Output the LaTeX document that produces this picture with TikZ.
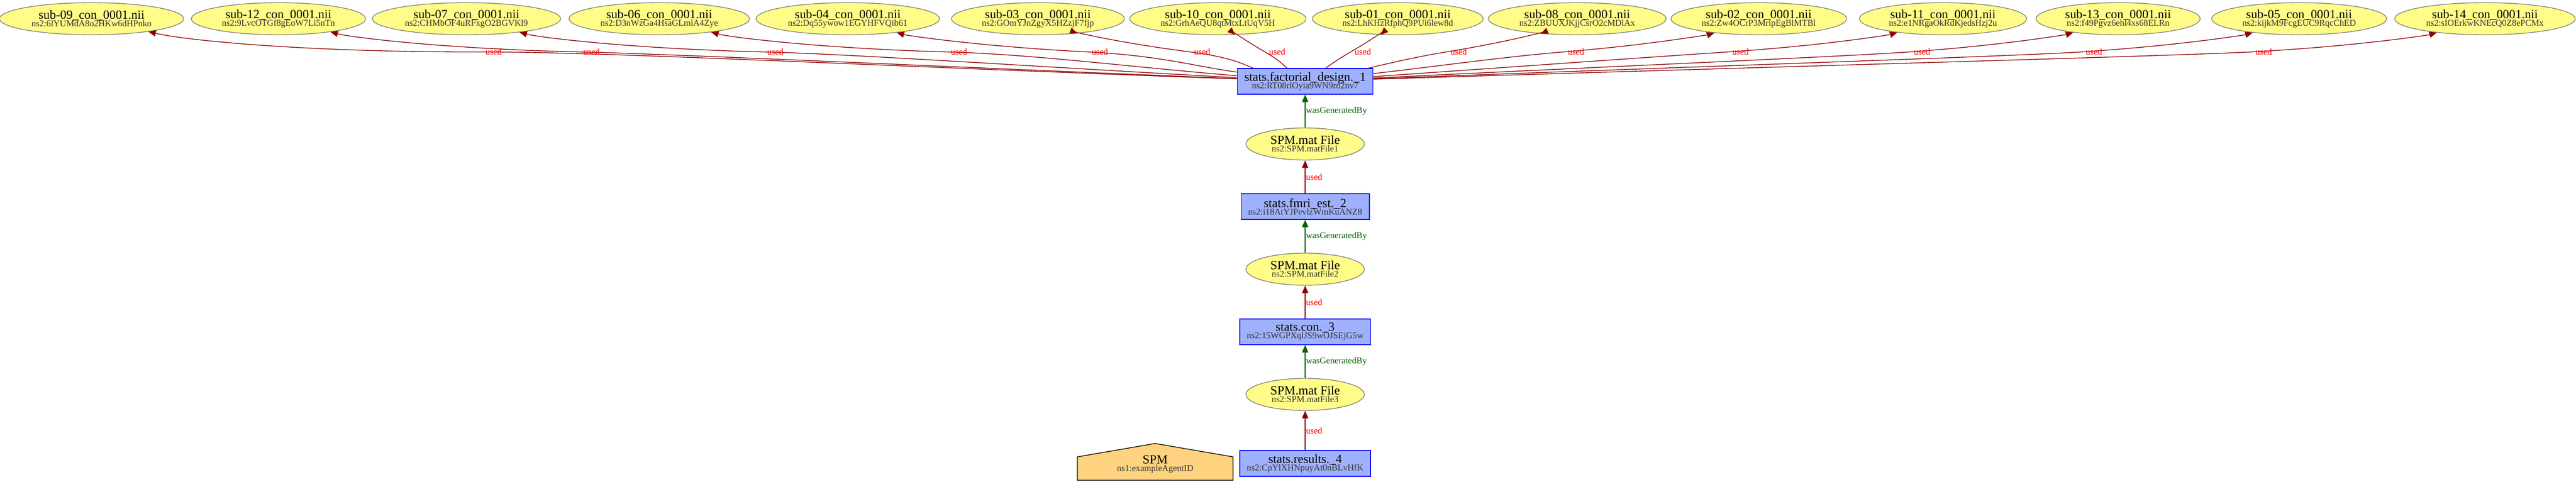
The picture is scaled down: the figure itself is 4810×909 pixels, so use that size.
\documentclass[tikz,border=0pt]{standalone}
\usepackage{fontspec}
\setmainfont{Liberation Serif}
\usetikzlibrary{arrows.meta,shapes.geometric,calc,backgrounds}

\definecolor{entfill}{HTML}{FFFC87}
\definecolor{entline}{HTML}{808080}
\definecolor{actfill}{HTML}{9FB1FC}
\definecolor{actline}{HTML}{0000FF}
\definecolor{agtfill}{HTML}{FED37F}
\definecolor{idgray}{HTML}{333333}
\definecolor{usedline}{HTML}{8B0000}
\definecolor{genline}{HTML}{006400}

\newcommand{\twoline}[2]{{\fontsize{14}{8.4}\selectfont #1}\\{\fontsize{10}{8.4}\selectfont\color{idgray}#2}}

\tikzset{
  provtext/.style={align=center, font=\fontsize{14}{8.4}\selectfont,
    execute at begin node={\lineskiplimit=-30pt}},
  entity/.style={provtext, ellipse, draw=entline, fill=entfill, line width=0.8pt,
    inner xsep=8pt, inner ysep=0pt, minimum height=36pt},
  activity/.style={provtext, rectangle, draw=actline, fill=actfill, line width=0.8pt,
    inner xsep=8pt, inner ysep=0pt, minimum height=28.8pt},
  agent/.style={provtext, rectangle, inner xsep=8pt, minimum width=174pt, minimum height=35.4pt},
  agentshape/.style={draw=black, fill=agtfill, line width=0.8pt},
  usededge/.style={draw=usedline, line width=0.8pt, -{Triangle[length=8.4pt,width=7pt]}},
  genedge/.style={draw=genline, line width=0.8pt, -{Triangle[length=8.4pt,width=7pt]}},
  usedlabel/.style={text=red, font=\fontsize{10}{12}\selectfont, inner sep=0.5pt},
  genlabel/.style={text=genline, font=\fontsize{10}{12}\selectfont, inner sep=0.5pt}
}

\begin{document}
\begin{tikzpicture}[x=0.6pt, y=-0.6pt]
  \useasboundingbox (0,0) rectangle (4810,909);

  % the chain of activities and SPM.mat files
  \node[activity] (fd) at (2437,152) {\twoline{stats.factorial\_design.\_1}{ns2:RT08rlOyia9WN9ro2nv7}};
  \node[entity] (mf1) at (2437,269) {\twoline{SPM.mat File}{ns2:SPM.matFile1}};
  \node[activity] (fe) at (2437,386) {\twoline{stats.fmri\_est.\_2}{ns2:i18AtYJPevlzWmKuANZ8}};
  \node[entity] (mf2) at (2437,503) {\twoline{SPM.mat File}{ns2:SPM.matFile2}};
  \node[activity] (con) at (2437,620) {\twoline{stats.con.\_3}{ns2:15WGPXqlJS9wOJSEjG5w}};
  \node[entity] (mf3) at (2437,737) {\twoline{SPM.mat File}{ns2:SPM.matFile3}};
  \node[activity] (res) at (2437,866) {\twoline{stats.results.\_4}{ns2:CpYlXHNpuyAt0nBLvHfK}};

  % agent
  \node[agent] (spm) at (2157,867.5) {\twoline{SPM}{ns1:exampleAgentID}};
  \begin{scope}[on background layer]
    \draw[agentshape] (spm.south west) -- (spm.south east) -- ($(spm.north east)+(0,16)$)
      -- ($(spm.north)+(0,-9)$) -- ($(spm.north west)+(0,16)$) -- cycle;
  \end{scope}

  \def \Chain {
    mf1/fd/genedge/genlabel/wasGeneratedBy,
    fe/mf1/usededge/usedlabel/used,
    mf2/fe/genedge/genlabel/wasGeneratedBy,
    con/mf2/usededge/usedlabel/used,
    mf3/con/genedge/genlabel/wasGeneratedBy,
    res/mf3/usededge/usedlabel/used}
  \foreach \a / \b / \e / \l / \t in \Chain {
    \path[\e] (\a) -- (\b) node[midway,right,\l] {\t};
  }

  % input contrast images
  \def \Inputs {
    09/6lYUMdA8o2HKw6dHPnko/171/899,
    12/9LvcOTGf8gEoW7Li5nTn/520/1082,
    07/CHMbOF4uRFxgO2BGVKl9/871/1425,
    06/D3nWzGa4HsaGLmlA4Zye/1231/1768,
    04/Dq55ywow1EGYHFVQib61/1583/2031,
    03/GOmYJnZgyX5HZzjF7fjp/1938/2222,
    10/GrhAeQU8qtMtxLtUqV5H/2274/2362,
    01/LhKHzRfphQ9PUi6lew8d/2610/2522,
    08/ZBUUXJKjjCsrO2cMDlAx/2945/2701,
    02/Zw4OCrP3MrlpEgBlMTBl/3284/2920,
    11/e1NRgaOkRdKjedsHzj2u/3628/3227,
    13/f49Pgvz6ehl4xs68ELRn/3955/3566,
    05/kijkM9FcgEUC9RqcChED/4293/3887,
    14/sIOErkwKNEcQ0Z8ePCMx/4640/4204}

  \foreach \subj / \id / \x / \w in \Inputs {
    \pgfmathsetmacro{\ra}{ifthenelse(\x<2437,5,-5)}
    \pgfmathsetmacro{\rb}{ifthenelse(\x<2437,-8,8)}
    \node[entity,inner xsep=5.7pt] (s\subj) at (\x,35) {\twoline{sub-\subj\_con\_0001.nii}{ns2:\id}};
    \coordinate (w\subj) at (\w,97);
    \path[usededge] (fd) .. controls ($(fd)!0.5!(w\subj)$) and ($(w\subj)!-0.3!\ra:(s\subj)$) .. (w\subj)
      node[usedlabel,right,xshift=3.6pt] {used}
      .. controls ($(w\subj)!0.45!\ra:(s\subj)$) and ($(s\subj)!0.25!\rb:(w\subj)$) .. (s\subj);
  }
\end{tikzpicture}
\end{document}
